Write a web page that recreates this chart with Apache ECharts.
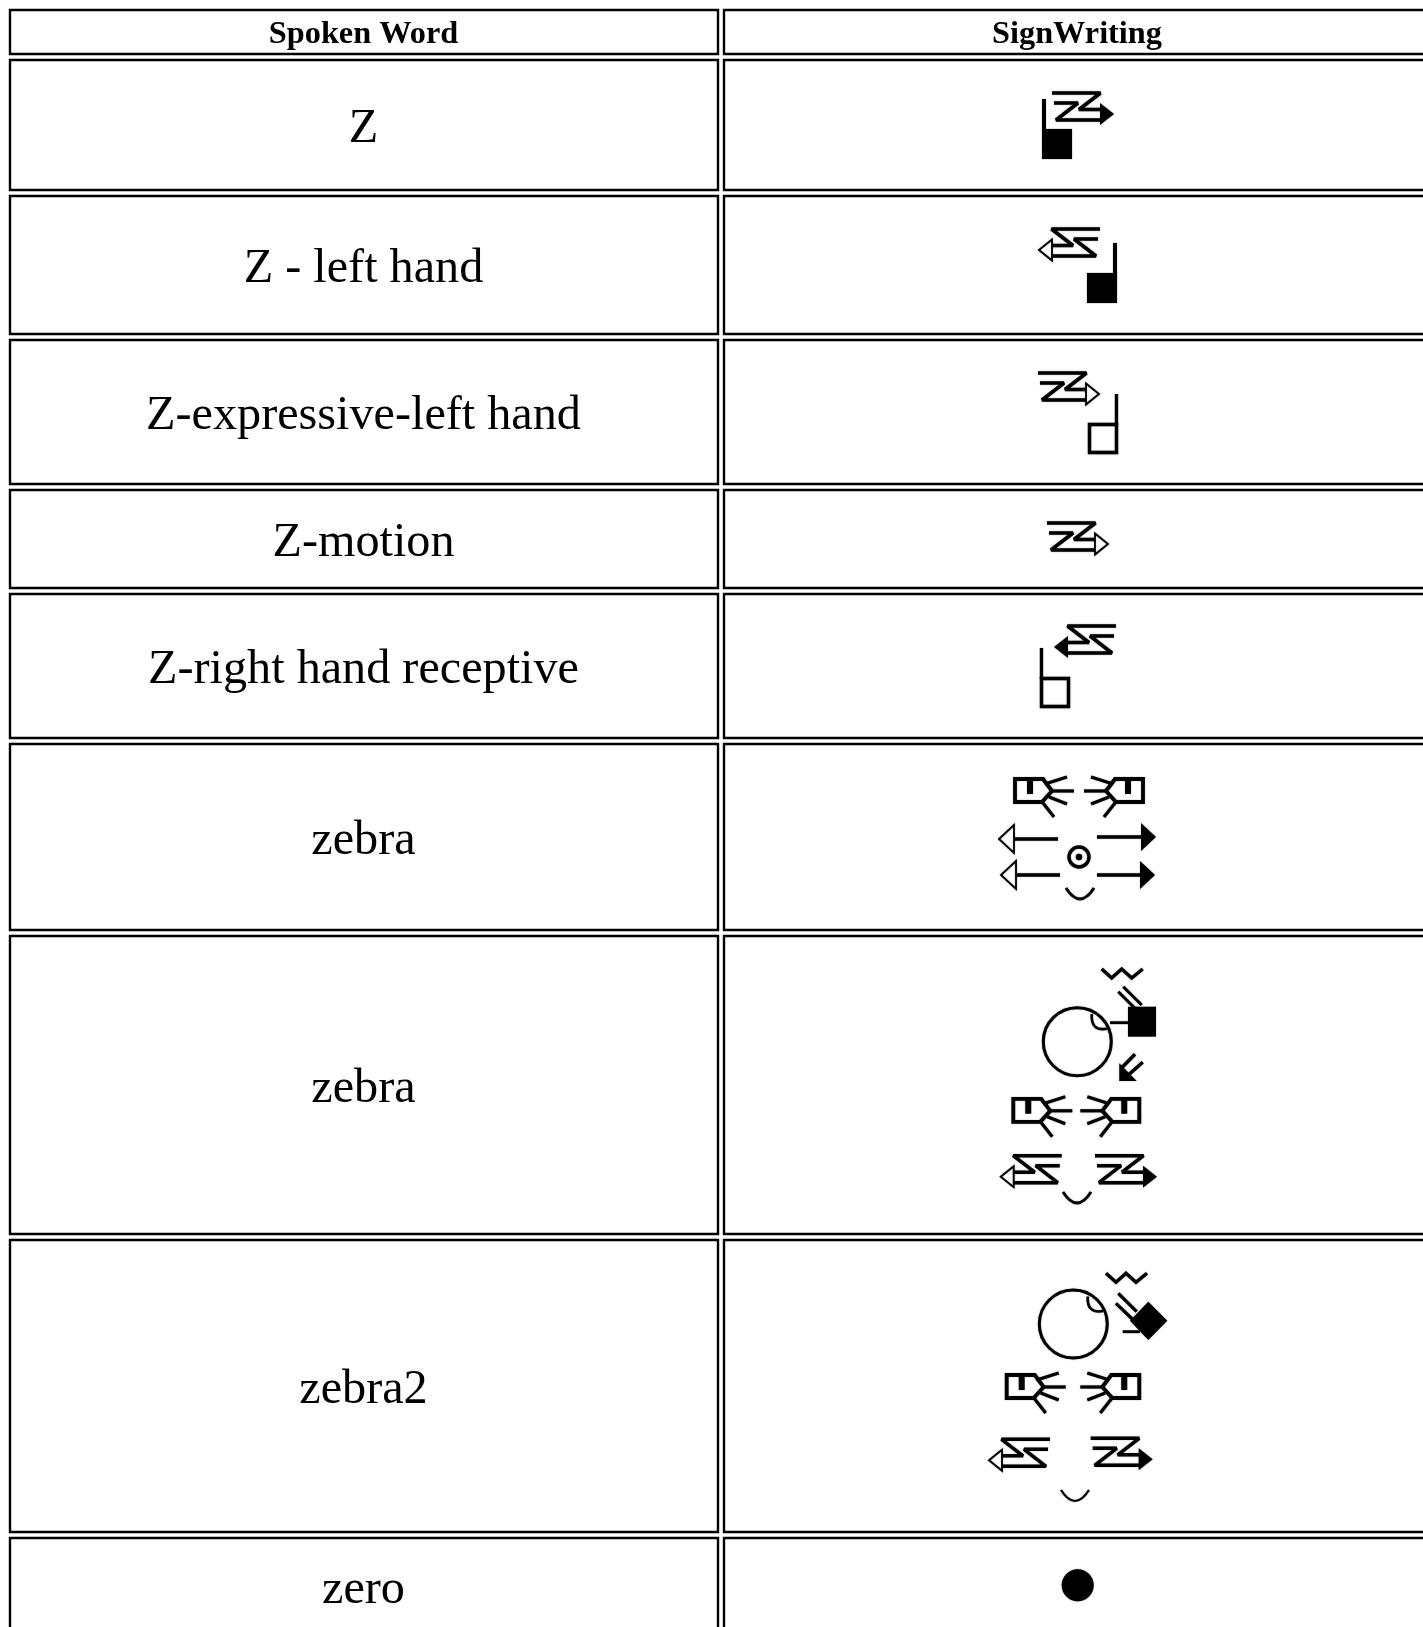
<!DOCTYPE html>
<html>
<head>
<meta charset="utf-8">
<style>html,body{margin:0;padding:0;background:#fff;overflow:hidden}#c{width:1423px;height:1627px}</style>
<script src="https://cdn.jsdelivr.net/npm/echarts@6/dist/echarts.min.js"></script>
</head>
<body>
<div id="c"></div>
<script>
// ---- table content ----
const headers = ['Spoken Word', 'SignWriting'];
const spokenWords = ['Z', 'Z - left hand', 'Z-expressive-left hand', 'Z-motion', 'Z-right hand receptive', 'zebra', 'zebra', 'zebra2', 'zero'];

// ---- table layout (stroke centres, on the hidden 1:1 axes) ----
const rowEdges = [[10,54],[60,190],[196,334],[340,484],[490,588],[594,738],[744,930],[936,1234],[1240,1532],[1538,1634]];
const colEdges = [[10,718],[724,1500]];

// ---- SignWriting symbol drawings, in local pixels ----
const INK = '#000';
const SOFT = {shadowBlur:1.4, shadowColor:'rgba(0,0,0,0.45)'};
const line = (pts, w, join) => ({type:'polyline', shape:{points:pts}, style:Object.assign({stroke:INK, lineWidth:w||3.2, fill:null, lineJoin:join||'miter', miterLimit:2, lineCap:'butt'}, SOFT)});
const solid = pts => ({type:'polygon', shape:{points:pts}, style:Object.assign({fill:INK}, SOFT)});
const hollow = pts => ({type:'polygon', shape:{points:pts}, style:Object.assign({fill:'#fff', stroke:INK, lineWidth:1.8}, SOFT)});
const ring = (cx, cy, r, w, fill) => ({type:'circle', shape:{cx, cy, r}, style:Object.assign({fill:fill||null, stroke:INK, lineWidth:w}, SOFT)});
const curve = (x1,y1,cx,cy,x2,y2,w) => ({type:'bezierCurve', shape:{x1,y1,x2,y2,cpx1:cx,cpy1:cy}, style:Object.assign({stroke:INK, lineWidth:w||2.5, fill:null}, SOFT)});

const zigzag = filled => [
  line([[0,0],[48.5,0],[27,16.5],[50,16.5]], 3.5, 'bevel'),
  line([[2,10],[26,10],[4,27],[50,27]], 3.5, 'bevel'),
  (filled ? solid : hollow)(filled ? [[48,10],[62,21],[48,32]] : [[48,10.5],[61,21],[48,31.5]])
];
const handSquare = filled => filled
  ? [{type:'rect', shape:{x:0,y:30,width:30,height:30}, style:Object.assign({fill:INK}, SOFT)}, line([[2,0],[2,31]], 4)]
  : [{type:'rect', shape:{x:1.5,y:30.5,width:27,height:28}, style:Object.assign({fill:null, stroke:INK, lineWidth:3.4}, SOFT)}, line([[1.5,0],[1.5,31]], 3.4)];
const faceHand = () => [
  {type:'polygon', shape:{points:[[0,0],[28,0],[37,12],[27,23],[0,23]]}, style:Object.assign({fill:'#fff', stroke:INK, lineWidth:3.8, lineJoin:'miter'}, SOFT)},
  line([[15,0],[15,15]], 6),
  line([[30,5],[52,-2]]), line([[37,12],[59,12]]), line([[34,18],[52,25]]), line([[28,24],[39,38]])
];
const straightArrow = (len, filled) => [
  line([[0,0],[len,0]], 3.4),
  (filled ? solid : hollow)([[len,-14],[len+15,0],[len,14]])
];
const target = () => [ring(0,0,10,3.4), ring(0,0,3.2,0.1,INK)];
const smile = (w) => [curve(-14,0,0,22,14,0,w)];
const head = () => [ring(0,0,34,3), curve(14.5,-27.5,13.2,-10,30,-13,2.6)];
const wave = () => [line([[0,0],[10,9],[20,0],[30,9],[41,0]], 3.4)];
const dot = () => [ring(0,0,16,0.1,INK)];
const contactSquare = () => [
  {type:'rect', shape:{x:1128,y:1006.7,width:28,height:30}, style:Object.assign({fill:INK}, SOFT)},
  line([[1110,1022.7],[1129,1022.7]], 2.8),
  line([[1118.3,991.7],[1136.7,1010]], 3), line([[1123.3,986.7],[1141.7,1005]], 3)
];
const contactDiamond = () => [
  solid([[1148.3,1301.7],[1167.3,1320.7],[1148.3,1340],[1130,1320.7]]),
  line([[1118.3,1293.3],[1136.7,1311.7]], 3.2), line([[1116,1303.3],[1133.3,1320]], 3.2),
  line([[1122.7,1331.7],[1140,1331.7]], 2.8)
];
const smallArrow = () => [
  line([[1142.7,1062.3],[1128.3,1075]], 3.4), line([[1135,1054.3],[1121.7,1067.7]], 3.4),
  solid([[1119.3,1063.3],[1119.3,1081],[1136.7,1081]])
];

// [symbol, x, y, mirrored]
const placements = [
  [()=>zigzag(true), 1052, 93], [()=>handSquare(true), 1042, 99],
  [()=>zigzag(false), 1100, 229, true], [()=>handSquare(true), 1117, 243, true],
  [()=>zigzag(false), 1038, 373], [()=>handSquare(false), 1118, 394, true],
  [()=>zigzag(false), 1047, 523],
  [()=>zigzag(true), 1116, 626, true], [()=>handSquare(false), 1040, 648],
  [faceHand, 1015, 779], [faceHand, 1143, 779, true],
  [()=>straightArrow(44,false), 1058, 839, true], [()=>straightArrow(44,false), 1060, 875, true],
  [()=>straightArrow(44,true), 1097, 837], [()=>straightArrow(43,true), 1097, 875],
  [target, 1079, 857], [()=>smile(2.8), 1080, 888],
  [wave, 1101.7, 969], [head, 1077.3, 1041.7], [contactSquare, 0, 0], [smallArrow, 0, 0],
  [faceHand, 1013.3, 1098.8], [faceHand, 1139.3, 1098.8, true],
  [()=>zigzag(false), 1061.7, 1155.7, true], [()=>zigzag(true), 1095, 1155.7], [()=>smile(2.8), 1077, 1192],
  [wave, 1106, 1273.3], [head, 1073.3, 1324], [contactDiamond, 0, 0],
  [faceHand, 1006.7, 1375], [faceHand, 1139.3, 1375, true],
  [()=>zigzag(false), 1050, 1439.3, true], [()=>zigzag(true), 1090.7, 1438.3], [()=>smile(2.2), 1075, 1490],
  [dot, 1077.7, 1585.3]
];

const SERIF = '"Liberation Serif","Times New Roman",serif';
const rowRecords = rowEdges.map((_, i) => [i, i === 0 ? headers[0] : spokenWords[i-1], i === 0 ? headers[1] : '']);

function renderCell(params, api) {
  const i = api.value(0);
  const [top, bottom] = rowEdges[i];
  const children = [];
  colEdges.forEach(([l, r], c) => {
    const a = api.coord([l, top]), b = api.coord([r, bottom]);
    children.push({type:'rect', shape:{x:a[0], y:a[1], width:b[0]-a[0], height:b[1]-a[1]},
      style:{fill:null, stroke:'#000', lineWidth:2.4}});
    const txt = rowRecords[i][c+1];
    if (txt) {
      children.push({type:'text', style:{
        text: txt, x:(c===0 ? 363.5 : 1077), y:(a[1]+b[1])/2 + (i===0 ? 3 : 4),
        textAlign:'center', textVerticalAlign:'middle', fill:'#000',
        font:(i===0 ? 'bold 32.3px ' : '48.2px ') + SERIF
      }});
    }
  });
  return {type:'group', children};
}
function renderGlyph(params, api) {
  const [make, x, y, mirrored] = placements[api.value(0)];
  const p = api.coord([x, y]);
  return {type:'group', x:p[0], y:p[1], scaleX: mirrored ? -1 : 1, children: make()};
}

const chart = echarts.init(document.getElementById('c'), null, {renderer:'canvas', width:1423, height:1627});
chart.setOption({
  animation:false,
  backgroundColor:'#fff',
  grid:{left:0, right:0, top:0, bottom:0},
  xAxis:{type:'value', min:0, max:1423, show:false},
  yAxis:{type:'value', min:0, max:1627, inverse:true, show:false},
  series:[
    {type:'custom', coordinateSystem:'cartesian2d', clip:false, renderItem:renderCell,
     data:rowRecords.map(r => [r[0]]), encode:{x:0, y:0}, silent:true},
    {type:'custom', coordinateSystem:'cartesian2d', clip:false, renderItem:renderGlyph,
     data:placements.map((_, i) => [i]), encode:{x:0, y:0}, silent:true}
  ]
});
</script>
</body>
</html>
